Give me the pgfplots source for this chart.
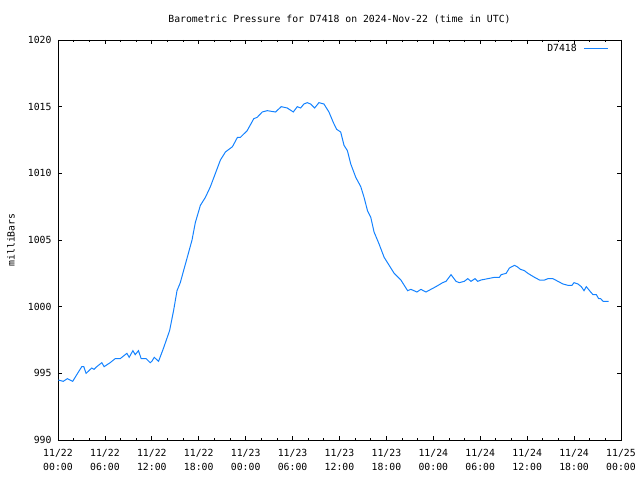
\documentclass[border=0pt]{standalone}
\usepackage{pgfplots}
\pgfplotsset{compat=1.18}
\usepackage{fontspec}
\setmainfont{DejaVu Sans Mono}
\definecolor{lineblue}{RGB}{20,130,255}
\begin{document}
\fontsize{9.8}{11.5}\selectfont
\begin{tikzpicture}
\path[use as bounding box] (0,0) rectangle (640pt,480pt);
\node[anchor=center] at (339.5pt,461pt) {Barometric Pressure for D7418 on 2024-Nov-22 (time in UTC)};
\node[rotate=90,anchor=center] at (11pt,240pt) {milliBars};
\begin{axis}[
  at={(58pt,40pt)}, anchor=south west,
  scale only axis, width=563pt, height=400pt,
  xmin=0, xmax=72, ymin=990, ymax=1020,
  axis line style={black, line width=0.9pt},
  xtick={0,6,...,72},
  xticklabels={11/22\\00:00,11/22\\06:00,11/22\\12:00,11/22\\18:00,11/23\\00:00,11/23\\06:00,11/23\\12:00,11/23\\18:00,11/24\\00:00,11/24\\06:00,11/24\\12:00,11/24\\18:00,11/25\\00:00},
  minor x tick num=2,
  ytick={990,995,...,1020},
  /pgf/number format/assume math mode=true,
  /pgf/number format/1000 sep={},
  tick style={black, line width=0.8pt},
  major tick length=4pt, minor tick length=2pt,
  tick align=inside,
  xticklabel style={align=center, font=\fontsize{9.8}{13.5}\selectfont, yshift=-6pt},
  yticklabel style={font=\fontsize{9.8}{11.5}\selectfont, xshift=-3pt},
  legend plot pos=right,
  legend cell align=right,
  legend style={draw=none, fill=none, at={(1,1)}, anchor=north east, xshift=-9pt, yshift=0pt, column sep=5pt, font=\fontsize{9.8}{11.5}\selectfont},
  legend image code/.code={\draw[#1] (0pt,0pt) -- (24pt,0pt);},
]
\addplot[lineblue, line width=1pt] coordinates {
(0.04,994.5) (0.68,994.4) (1.19,994.6) (1.88,994.4) (2.4,994.9) (3.04,995.5) (3.3,995.5) (3.59,995.0) (4.32,995.4) (4.6,995.3) (4.96,995.5) (5.6,995.8) (5.9,995.5) (6.67,995.8) (7.31,996.1) (7.95,996.1) (8.81,996.5) (9.1,996.2) (9.58,996.7) (9.87,996.4) (10.29,996.7) (10.64,996.1) (11.28,996.1) (11.79,995.8) (12.0,995.9) (12.31,996.2) (12.86,995.9) (13.5,996.9) (14.27,998.2) (14.78,999.7) (15.22,1001.2) (15.64,1001.8) (16.06,1002.7) (16.58,1003.8) (17.14,1005.0)
(17.56,1006.3) (18.21,1007.6) (18.85,1008.2) (19.49,1009.0) (20.13,1010.0) (20.77,1011.0) (21.41,1011.6) (22.31,1012.0) (22.95,1012.7) (23.33,1012.7) (24.19,1013.2) (25.04,1014.1) (25.47,1014.2) (26.12,1014.6) (26.76,1014.7) (27.82,1014.6) (28.55,1015.0) (29.32,1014.9) (30.09,1014.6) (30.6,1015.0) (31.03,1014.9) (31.45,1015.2) (31.88,1015.3) (32.31,1015.2) (32.82,1014.9) (33.37,1015.3) (34.01,1015.2) (34.65,1014.6) (35.22,1013.8) (35.64,1013.3) (36.15,1013.1) (36.58,1012.1) (37.01,1011.7) (37.44,1010.7) (38.08,1009.7) (38.72,1009.0) (39.14,1008.2) (39.58,1007.2) (40.0,1006.7) (40.42,1005.6) (41.06,1004.7) (41.71,1003.7) (42.35,1003.1) (42.99,1002.5) (43.85,1002.0)
(44.71,1001.2) (45.13,1001.3) (45.9,1001.1) (46.41,1001.3) (47.05,1001.1) (47.69,1001.3) (48.33,1001.5) (49.19,1001.8) (49.62,1001.9) (50.26,1002.4) (50.9,1001.9) (51.32,1001.8) (51.96,1001.9) (52.4,1002.1) (52.82,1001.9) (53.33,1002.1) (53.68,1001.9) (54.1,1002.0) (54.96,1002.1) (55.81,1002.2) (56.45,1002.2) (56.67,1002.4) (57.31,1002.5) (57.73,1002.9) (58.37,1003.1) (58.72,1003.0) (59.14,1002.8) (59.65,1002.7) (60.09,1002.5) (60.94,1002.2) (61.58,1002.0) (62.22,1002.0) (62.65,1002.1) (63.29,1002.1) (63.94,1001.9) (64.58,1001.7) (65.22,1001.6) (65.73,1001.6) (65.99,1001.8) (66.5,1001.7) (66.92,1001.5) (67.27,1001.2) (67.56,1001.5) (68.12,1001.1) (68.42,1000.9) (68.85,1000.9) (69.14,1000.6) (69.4,1000.6) (69.71,1000.4) (70.42,1000.4)
};
\addlegendentry{D7418}
\end{axis}
\end{tikzpicture}
\end{document}
